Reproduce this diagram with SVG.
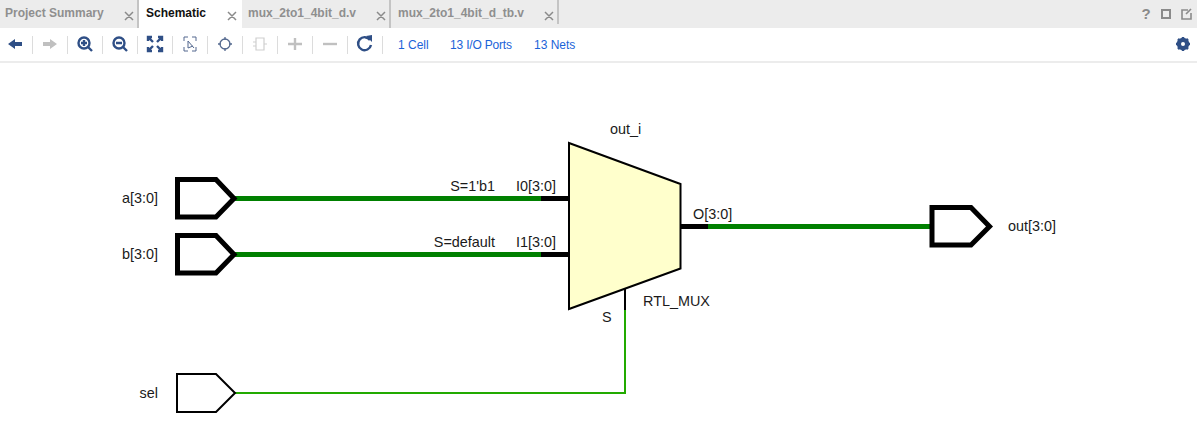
<svg xmlns="http://www.w3.org/2000/svg" width="1197" height="443" viewBox="0 0 1197 443">
<style>
text{font-family:"Liberation Sans",Arial,sans-serif;font-size:14.400px;fill:#1a1a1a}
.tab{font-size:12px;font-weight:bold;fill:#8f8f8f}
.act{fill:#111}
.link{font-size:12px;fill:#1a63d8}
.x{stroke:#8a8a8a;stroke-width:1.5;fill:none}
.sep{stroke:#dcdcdc;stroke-width:1}
.tabsep{stroke:#c4c4c4;stroke-width:2}
.ic{fill:none;stroke:#2f4f86;stroke-width:2.4}
.dis{fill:none;stroke:#c0c0c0;stroke-width:2.4}
.bus{stroke:#008000;stroke-width:5;fill:none}
.bk{stroke:#000;stroke-width:5;fill:none}
.wire{stroke:#22aa00;stroke-width:2;fill:none}
.port{fill:#fff;stroke:#000;stroke-width:5;stroke-linejoin:miter}
.port1{fill:#fff;stroke:#000;stroke-width:2}
</style>
<rect width="1197" height="443" fill="#fff"/>
<g id="tabs">
<rect width="1197" height="28" fill="#ececec"/>
<rect x="139" width="103" height="28" fill="#fff"/>
<path class="tabsep" d="M138 0V28M390 0V28M558 0V24"/>
<text class="tab" x="5" y="17">Project Summary</text>
<text class="tab act" x="146" y="17">Schematic</text>
<text class="tab" x="248" y="17">mux_2to1_4bit_d.v</text>
<text class="tab" x="398" y="17">mux_2to1_4bit_d_tb.v</text>
<path class="x" d="M125 12l8 8M133 12l-8 8M228 12l8 8M236 12l-8 8M377 12l8 8M385 12l-8 8M545 12l8 8M553 12l-8 8"/>
<text x="1146" y="19" style="font-size:15px;font-weight:bold;fill:#8a8a8a" text-anchor="middle">?</text>
<rect x="1162" y="10" width="8" height="8" fill="none" stroke="#8a8a8a" stroke-width="2"/>
<path d="M1188 10h-6v9h9v-6M1186 14l5-5" fill="none" stroke="#8a8a8a" stroke-width="1.600"/>
</g>
<g id="toolbar">
<rect y="61" width="1197" height="2" fill="#ececec"/>
<path class="sep" d="M32.500 36V54M67.500 36V54M102.500 36V54M137.500 36V54M172.500 36V54M207.500 36V54M242.500 36V54M277.500 36V54M312.500 36V54M347.500 36V54M382.500 36V54"/>
<path d="M8 44l7-5v3h7v4h-7v3z" fill="#2f4f86"/>
<path d="M57 44l-7-5v3h-7v4h7v3z" fill="#c0c0c0"/>
<circle class="ic" cx="84" cy="43" r="5.500"/><path class="ic" d="M88 47l4 4M81 43h6M84 40v6"/>
<circle class="ic" cx="119" cy="43" r="5.500"/><path class="ic" d="M123 47l4 4M116 43h6"/>
<path class="ic" d="M149 38l4 4M161 38l-4 4M149 50l4-4M161 50l-4-4M148 41v-4h4M158 37h4v4M148 47v4h4M158 51h4v-4" stroke-width="2"/>
<path d="M184 41v-4h4M192 37h4v4M184 47v4h4M192 51h4v-4M188 41l6 7M188 41v7l5-2" fill="none" stroke="#54698f" stroke-width="1"/>
<circle cx="225" cy="44" r="5" fill="none" stroke="#54698f" stroke-width="1.300"/><path d="M225 37v3M225 48v3M218 44h3M229 44h3" fill="none" stroke="#54698f" stroke-width="1.300"/>
<path d="M256 38h8v12h-8zM253 42h3M253 46h3M264 44h3" fill="none" stroke="#cfcfcf" stroke-width="1.200"/>
<path class="dis" d="M295 38v12M288 44h14" stroke-width="3.500"/>
<path class="dis" d="M323 44h14" stroke-width="3.500"/>
<path class="ic" d="M370 40a6.500 6.500 0 1 0 1 5"/><path d="M366 36l6-1 0 7z" fill="#2f4f86"/>
<text class="link" x="398" y="49">1 Cell</text>
<text class="link" x="450" y="49" textLength="62">13 I/O Ports</text>
<text class="link" x="534" y="49">13 Nets</text>
<circle cx="1183" cy="44" r="4.500" fill="none" stroke="#2f4f86" stroke-width="3.500"/>
<path d="M1183 37v14M1176 44h14M1178 39l10 10M1188 39l-10 10" stroke="#2f4f86" stroke-width="2.500"/>
<circle cx="1183" cy="44" r="2" fill="#fff"/>
</g>
<g id="connectors">
<path class="bus" d="M234 198.500H541"/><path class="bk" d="M541 198.500H569"/>
<path class="bus" d="M234 254.500H541"/><path class="bk" d="M541 254.500H569"/>
<path class="bk" d="M681 226.500H708"/><path class="bus" d="M708 226.500H931"/>
<path d="M625 288V310" stroke="#000" stroke-width="2" fill="none"/>
<path class="wire" d="M235 393H625V310"/>
<text x="495" y="191" text-anchor="end">S=1'b1</text>
<text x="495" y="247" text-anchor="end">S=default</text>
</g>
<g id="port-a"><path class="port" d="M177.500 179.500H216L234 198.500L216 217H177.500Z"/><text x="158" y="203" text-anchor="end">a[3:0]</text></g>
<g id="port-b"><path class="port" d="M177.500 235.500H216L234 254.500L216 273H177.500Z"/><text x="158" y="259" text-anchor="end">b[3:0]</text></g>
<g id="port-sel"><path class="port1" d="M177 374H216L235 393L216 412H177Z"/><text x="158" y="398" text-anchor="end">sel</text></g>
<g id="port-out"><path class="port" d="M932 207.500H971L989.500 226.500L971 245H932Z"/><text x="1008" y="231">out[3:0]</text></g>
<g id="out_i">
<path d="M569 143L680.500 184V268.500L569 309Z" fill="#ffffcc" stroke="#000" stroke-width="2"/>
<text x="610" y="134">out_i</text>
<text x="516" y="191">I0[3:0]</text>
<text x="516" y="247">I1[3:0]</text>
<text x="693" y="219">O[3:0]</text>
<text x="602" y="322">S</text>
<text x="643" y="306">RTL_MUX</text>
</g>
</svg>
